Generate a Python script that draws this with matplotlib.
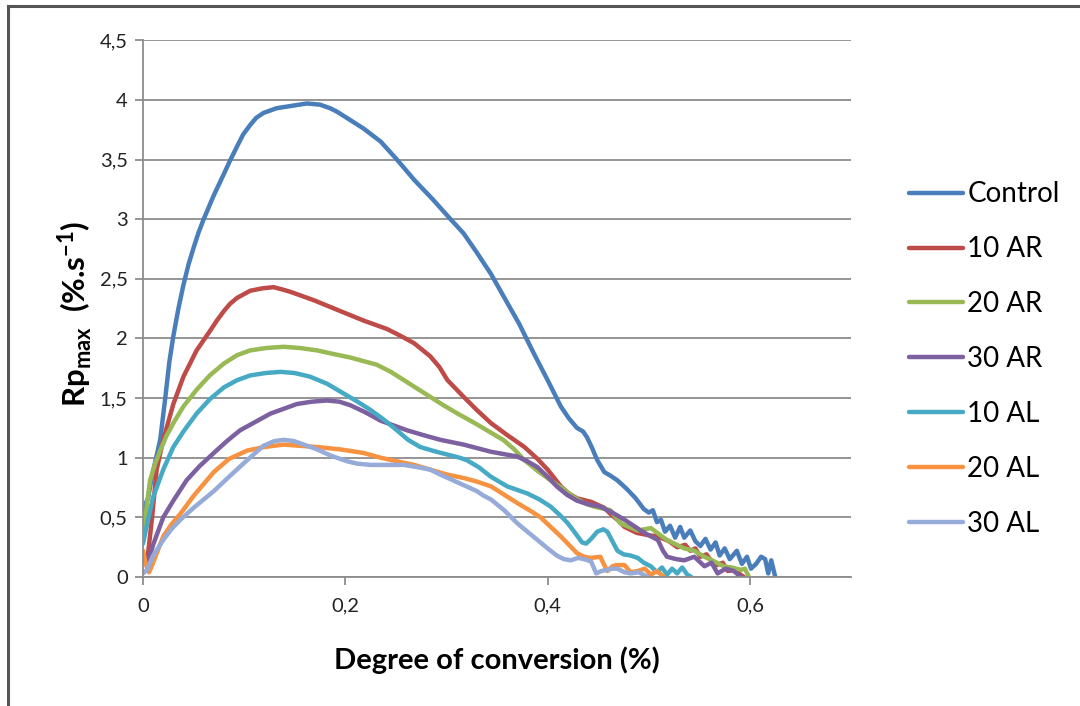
import matplotlib
matplotlib.use('Agg')
import matplotlib.pyplot as plt
from matplotlib.lines import Line2D

plt.rcParams['font.family'] = ['Lato', 'DejaVu Sans']

# ---- data ----
control_x = [0.0, 0.005, 0.009, 0.013, 0.017, 0.022, 0.026, 0.030, 0.035, 0.040, 0.045, 0.050,
             0.055, 0.060, 0.070, 0.080, 0.086, 0.093, 0.099, 0.106, 0.112, 0.119, 0.132,
             0.147, 0.162, 0.175, 0.185, 0.192, 0.205, 0.218, 0.235, 0.251, 0.268, 0.286,
             0.304, 0.317, 0.330, 0.344, 0.358, 0.372, 0.386, 0.400, 0.413, 0.421, 0.429,
             0.435, 0.439, 0.444, 0.449, 0.456, 0.462, 0.469, 0.478, 0.487, 0.495, 0.500,
             0.504, 0.508, 0.512, 0.516, 0.521, 0.526, 0.531, 0.535, 0.541, 0.546, 0.551,
             0.556, 0.561, 0.566, 0.570, 0.575, 0.580, 0.587, 0.592, 0.597, 0.601, 0.606,
             0.611, 0.615, 0.618, 0.621, 0.625]
control_y = [0.57, 0.66, 0.85, 1.00, 1.15, 1.50, 1.80, 2.02, 2.25, 2.45, 2.62, 2.76,
             2.89, 3.00, 3.20, 3.38, 3.49, 3.61, 3.71, 3.79, 3.85, 3.89, 3.93,
             3.95, 3.97, 3.96, 3.93, 3.90, 3.83, 3.76, 3.65, 3.50, 3.33, 3.17,
             3.00, 2.88, 2.72, 2.54, 2.33, 2.12, 1.88, 1.65, 1.43, 1.33, 1.25,
             1.22, 1.17, 1.08, 0.98, 0.88, 0.85, 0.81, 0.74, 0.66, 0.57, 0.54,
             0.56, 0.46, 0.48, 0.38, 0.43, 0.33, 0.42, 0.33, 0.39, 0.30, 0.26,
             0.32, 0.23, 0.29, 0.18, 0.24, 0.15, 0.22, 0.11, 0.17, 0.07, 0.11,
             0.17, 0.15, 0.03, 0.14, 0.0]

ar10_x = [0.0, 0.004, 0.009, 0.0135, 0.020, 0.030, 0.040, 0.053, 0.066, 0.073, 0.080, 0.086,
          0.093, 0.106, 0.118, 0.129, 0.138, 0.146, 0.169, 0.192, 0.218, 0.241, 0.255,
          0.268, 0.284, 0.293, 0.301, 0.317, 0.330, 0.344, 0.360, 0.377, 0.390, 0.400,
          0.413, 0.421, 0.429, 0.443, 0.456, 0.462, 0.469, 0.476, 0.488, 0.500, 0.509,
          0.520, 0.528, 0.536, 0.541, 0.546, 0.551, 0.557, 0.562, 0.567, 0.573, 0.578,
          0.584, 0.589, 0.594]
ar10_y = [0.17, 0.12, 0.50, 0.90, 1.15, 1.45, 1.68, 1.90, 2.06, 2.15, 2.23, 2.29,
          2.34, 2.40, 2.42, 2.43, 2.41, 2.39, 2.32, 2.24, 2.15, 2.08, 2.02,
          1.96, 1.85, 1.76, 1.65, 1.51, 1.40, 1.29, 1.19, 1.09, 0.99, 0.90,
          0.76, 0.70, 0.66, 0.63, 0.58, 0.53, 0.48, 0.42, 0.37, 0.35, 0.34,
          0.30, 0.25, 0.27, 0.22, 0.24, 0.17, 0.19, 0.13, 0.10, 0.12, 0.05,
          0.06, 0.03, 0.0]

ar20_x = [0.0, 0.004, 0.007, 0.012, 0.017, 0.023, 0.030, 0.040, 0.053, 0.066, 0.080, 0.093,
          0.106, 0.122, 0.139, 0.155, 0.172, 0.188, 0.205, 0.218, 0.231, 0.245, 0.258,
          0.271, 0.284, 0.297, 0.311, 0.328, 0.344, 0.356, 0.367, 0.377, 0.390, 0.403,
          0.415, 0.426, 0.436, 0.446, 0.462, 0.472, 0.489, 0.502, 0.518, 0.535, 0.545,
          0.555, 0.565, 0.574, 0.582, 0.591, 0.595, 0.599]
ar20_y = [0.30, 0.62, 0.81, 0.95, 1.06, 1.18, 1.29, 1.43, 1.57, 1.69, 1.79, 1.86,
          1.90, 1.92, 1.93, 1.92, 1.90, 1.87, 1.84, 1.81, 1.78, 1.72, 1.65,
          1.58, 1.51, 1.44, 1.37, 1.29, 1.21, 1.15, 1.07, 0.98, 0.89, 0.81,
          0.74, 0.67, 0.62, 0.59, 0.56, 0.45, 0.39, 0.41, 0.31, 0.24, 0.22,
          0.17, 0.13, 0.09, 0.08, 0.06, 0.07, 0.0]

ar30_x = [0.0, 0.004, 0.010, 0.020, 0.030, 0.043, 0.056, 0.070, 0.083, 0.096, 0.111, 0.126,
          0.139, 0.152, 0.167, 0.182, 0.194, 0.205, 0.220, 0.235, 0.248, 0.261, 0.277,
          0.294, 0.317, 0.344, 0.357, 0.370, 0.380, 0.390, 0.400, 0.409, 0.419, 0.429,
          0.440, 0.452, 0.464, 0.476, 0.485, 0.492, 0.500, 0.509, 0.514, 0.518, 0.527,
          0.535, 0.545, 0.555, 0.562, 0.568, 0.576, 0.584, 0.591]
ar30_y = [0.15, 0.10, 0.27, 0.50, 0.64, 0.81, 0.93, 1.04, 1.14, 1.23, 1.30, 1.37,
          1.41, 1.45, 1.47, 1.48, 1.47, 1.44, 1.38, 1.31, 1.27, 1.23, 1.19,
          1.15, 1.11, 1.05, 1.03, 1.01, 0.97, 0.92, 0.84, 0.76, 0.69, 0.64,
          0.61, 0.59, 0.54, 0.48, 0.43, 0.39, 0.35, 0.31, 0.22, 0.17, 0.15,
          0.14, 0.17, 0.09, 0.12, 0.03, 0.07, 0.05, 0.0]

al10_x = [0.0, 0.005, 0.010, 0.020, 0.030, 0.040, 0.053, 0.066, 0.080, 0.093, 0.106, 0.121,
          0.136, 0.150, 0.165, 0.182, 0.198, 0.212, 0.225, 0.238, 0.251, 0.262, 0.274,
          0.290, 0.304, 0.313, 0.320, 0.332, 0.344, 0.360, 0.380, 0.392, 0.403, 0.412,
          0.420, 0.428, 0.434, 0.438, 0.443, 0.449, 0.455, 0.459, 0.464, 0.469, 0.475,
          0.482, 0.489, 0.495, 0.502, 0.508, 0.513, 0.518, 0.523, 0.528, 0.533, 0.538, 0.542]
al10_y = [0.28, 0.48, 0.67, 0.90, 1.09, 1.22, 1.37, 1.49, 1.59, 1.65, 1.69, 1.71,
          1.72, 1.71, 1.68, 1.62, 1.54, 1.47, 1.40, 1.32, 1.23, 1.15, 1.09,
          1.05, 1.02, 1.00, 0.98, 0.92, 0.84, 0.76, 0.70, 0.65, 0.59, 0.52,
          0.45, 0.36, 0.29, 0.28, 0.32, 0.38, 0.40, 0.38, 0.30, 0.22, 0.19,
          0.18, 0.16, 0.12, 0.09, 0.04, 0.08, 0.02, 0.07, 0.03, 0.08, 0.02, 0.0]

al20_x = [0.0, 0.003, 0.006, 0.010, 0.020, 0.028, 0.037, 0.050, 0.070, 0.085, 0.103, 0.120,
          0.139, 0.155, 0.172, 0.195, 0.218, 0.235, 0.251, 0.268, 0.284, 0.300, 0.317,
          0.330, 0.344, 0.357, 0.370, 0.382, 0.393, 0.403, 0.413, 0.421, 0.429, 0.436,
          0.443, 0.452, 0.456, 0.459, 0.464, 0.468, 0.476, 0.482, 0.489, 0.496, 0.502,
          0.508, 0.515]
al20_y = [0.22, 0.10, 0.04, 0.12, 0.34, 0.44, 0.53, 0.68, 0.88, 0.99, 1.06, 1.09,
          1.11, 1.10, 1.09, 1.07, 1.04, 1.00, 0.97, 0.94, 0.90, 0.86, 0.83,
          0.80, 0.76, 0.69, 0.62, 0.56, 0.50, 0.42, 0.34, 0.27, 0.20, 0.17,
          0.16, 0.17, 0.10, 0.05, 0.09, 0.10, 0.10, 0.04, 0.05, 0.07, 0.02,
          0.05, 0.0]

al30_x = [0.0, 0.004, 0.010, 0.020, 0.028, 0.037, 0.050, 0.070, 0.085, 0.103, 0.119, 0.130,
          0.139, 0.149, 0.159, 0.172, 0.185, 0.195, 0.202, 0.212, 0.225, 0.240, 0.258,
          0.272, 0.284, 0.296, 0.304, 0.317, 0.330, 0.337, 0.344, 0.357, 0.370, 0.380,
          0.390, 0.400, 0.409, 0.416, 0.423, 0.430, 0.436, 0.443, 0.448, 0.453, 0.459,
          0.464, 0.469, 0.476, 0.482, 0.490, 0.499]
al30_y = [0.03, 0.06, 0.18, 0.31, 0.40, 0.48, 0.58, 0.72, 0.84, 0.98, 1.10, 1.14,
          1.15, 1.14, 1.11, 1.07, 1.02, 0.99, 0.97, 0.95, 0.94, 0.94, 0.94,
          0.92, 0.90, 0.85, 0.82, 0.77, 0.72, 0.68, 0.65, 0.56, 0.45, 0.38,
          0.31, 0.24, 0.18, 0.15, 0.14, 0.16, 0.15, 0.13, 0.03, 0.05, 0.06,
          0.07, 0.07, 0.04, 0.03, 0.04, 0.0]

labels = ['Control', '10 AR', '20 AR', '30 AR', '10 AL', '20 AL', '30 AL']
colors = ['#4A7EBB', '#BE4B48', '#98B954', '#7D60A0', '#46AAC5', '#F69240', '#97ABD8']
series = [(control_x, control_y), (ar10_x, ar10_y), (ar20_x, ar20_y), (ar30_x, ar30_y),
          (al10_x, al10_y), (al20_x, al20_y), (al30_x, al30_y)]

yticks = [0, 0.5, 1, 1.5, 2, 2.5, 3, 3.5, 4, 4.5]
xticks = [0, 0.2, 0.4, 0.6]

# ---- plot ----
fig = plt.figure(figsize=(10.8, 7.06), dpi=100)
ax = fig.add_axes([0.1324, 0.1827, 0.6557, 0.7603])

for (xs, ys), lab, c in zip(series, labels, colors):
    ax.plot(xs, ys, color=c, lw=3.2, label=lab, solid_capstyle='round', solid_joinstyle='round')

ax.set_xlim(0, 0.7)
ax.set_ylim(0, 4.5)
ax.set_yticks(yticks)
ax.set_yticklabels([('%g' % v).replace('.', ',') for v in yticks])
ax.set_xticks(xticks)
ax.set_xticklabels([('%g' % v).replace('.', ',') for v in xticks])

ax.grid(axis='y', color='#8c8c8c', lw=1.3)
ax.set_axisbelow(True)
for s in ['top', 'right']:
    ax.spines[s].set_visible(False)
for s in ['left', 'bottom']:
    ax.spines[s].set_color('#8c8c8c')
    ax.spines[s].set_linewidth(1.3)
ax.tick_params(colors='#8c8c8c', length=6, width=1.3, labelcolor='#222222', labelsize=14.5)
ax.tick_params(axis='y', pad=5)
ax.tick_params(axis='x', pad=9)

# axis titles placed like the Excel chart
fig.text(497 / 1080, 1 - 660 / 706, 'Degree of conversion (%)', fontsize=21, fontweight='bold',
         ha='center', va='center')
fig.text(75 / 1080, 1 - 314 / 706, r'Rp$_{\mathregular{max}}$  (%.s$^{\mathregular{-1}}$)',
         fontsize=22.5, fontweight='bold', rotation=90, ha='center', va='center')

ax.legend(loc='center left', bbox_to_anchor=(909 / 1080, 1 - 359 / 706),
          bbox_transform=fig.transFigure, frameon=False, fontsize=20,
          borderpad=0, borderaxespad=0,
          handlelength=1.95, handletextpad=0.15, labelspacing=1.04)

# chart border (top and left edges visible)
fig.add_artist(Line2D([0.0074, 1.0], [0.9915, 0.9915], color='#555555', lw=2.2))
fig.add_artist(Line2D([0.0074, 0.0074], [0.0, 0.9915], color='#555555', lw=2.2))

fig.savefig('out.png', dpi=100)
